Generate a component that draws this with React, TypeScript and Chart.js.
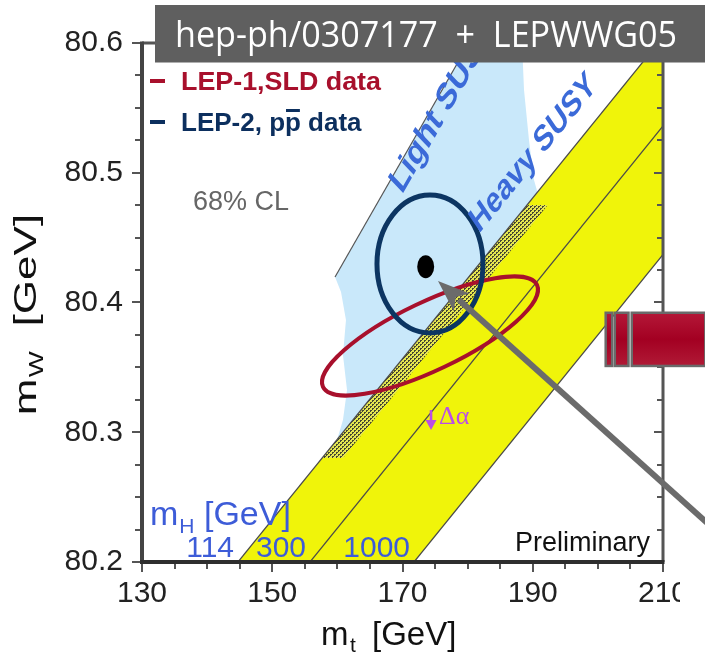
import React, { useEffect, useRef } from 'react';
import { Chart, registerables } from 'chart.js';

Chart.register(...registerables);

// ---------- axis ----------
const xTickValues = [130, 150, 170, 190, 210];
const yTickValues = [80.2, 80.3, 80.4, 80.5, 80.6];

// ---------- SM band: lines of constant mH (mt at mW = 80.2 and at mW = 80.6) ----------
const mHLabels = ['114', '300', '1000'];
const mHLineMtAtLow = [144.74, 155.8, 171.77];
const mHLineMtAtHigh = [209.26, 220.32, 236.29];
const mHLineMW = [80.2, 80.6];

// ---------- MSSM (Light / Heavy SUSY) region outline ----------
const susyRegionMt = [159.64, 180.21, 188.35, 188.66, 189.42, 190.19, 191.27, 159.94, 160.86, 161.48, 160.86, 161.32, 160.56];
const susyRegionMW = [80.4197, 80.6, 80.6, 80.5638, 80.5252, 80.4944, 80.4751, 80.294, 80.3094, 80.3326, 80.3595, 80.3865, 80.4081];

// Light SUSY edge line
const lightEdgeMt = [159.64, 180.21];
const lightEdgeMW = [80.4197, 80.6];

// overlap strip (dotted)
const stripMt = [157.67, 189.13, 192.3, 160.85];
const stripMW = [80.2802, 80.4751, 80.4751, 80.2802];

// ---------- 68% CL contours ----------
const lep1Center = [174.22, 80.3742];
const lep1MajorEnd = [190.65, 80.4135];
const lep1MinorEnd = [176.47, 80.3505];
const lep2Center = [174.22, 80.4297];
const lep2HalfAxes = [8.14, 0.0532];
const measuredPoint = [173.56, 80.4276];
const measuredHalf = [1.3, 0.0089];

// ---------- annotations (data coordinates) ----------
const arrowTip = [175.45, 80.4166];
const arrowTail = [217.98, 80.2247];
const deltaAlphaArrow = [174.38, 80.3171, 80.3033];
const deltaAlphaText = [175.6, 80.3064];
const lightSusyAnchor = [169.92, 80.4829];
const heavySusyAnchor = [181.75, 80.4528];
const widgetMt = [[201.2, 202.2], [202.6, 204.7], [205.2, 216.5]];
const widgetMW = [80.3511, 80.3921];

const SANS = '"Liberation Sans", Arial, Helvetica, sans-serif';

function makeDots(): CanvasPattern | string {
  const c = document.createElement('canvas');
  c.width = 4;
  c.height = 4;
  const g = c.getContext('2d');
  if (!g) return '#c8ca60';
  g.fillStyle = 'rgb(228,230,80)';
  g.fillRect(0, 0, 4, 4);
  g.fillStyle = 'rgb(70,70,50)';
  g.fillRect(0, 0, 2, 1);
  g.fillRect(0, 1, 1, 1);
  g.fillRect(2, 2, 2, 1);
  g.fillRect(2, 3, 1, 1);
  const p = g.createPattern(c, 'repeat');
  return p || '#c8ca60';
}

function rotText(ctx: CanvasRenderingContext2D, text: string, x: number, y: number, slope: number, font: string, color: string, stretch: number) {
  ctx.save();
  ctx.translate(x, y);
  ctx.scale(1, stretch);
  ctx.rotate(-Math.atan(slope / stretch));
  ctx.font = font;
  ctx.fillStyle = color;
  ctx.textAlign = 'left';
  ctx.textBaseline = 'alphabetic';
  ctx.fillText(text, 0, 0);
  ctx.restore();
}

const decor = {
  id: 'decor',
  afterDatasetsDraw(chart: any) {
    const ctx: CanvasRenderingContext2D = chart.ctx;
    const { left, top, right, bottom } = chart.chartArea;
    const xs = chart.scales.x;
    const ys = chart.scales.y;
    const P = (mt: number, mw: number) => [xs.getPixelForValue(mt), ys.getPixelForValue(mw)];
    ctx.save();
    ctx.beginPath();
    ctx.rect(left, top, right - left, bottom - top);
    ctx.clip();

    // LEP-1, SLD contour
    {
      const [cx, cy] = P(lep1Center[0], lep1Center[1]);
      const [ax, ay] = P(lep1MajorEnd[0], lep1MajorEnd[1]);
      const [bx, by] = P(lep1MinorEnd[0], lep1MinorEnd[1]);
      const a = Math.hypot(ax - cx, ay - cy);
      const b = Math.hypot(bx - cx, by - cy);
      ctx.beginPath();
      ctx.ellipse(cx, cy, a, b, Math.atan2(ay - cy, ax - cx), 0, Math.PI * 2);
      ctx.strokeStyle = '#a8102c';
      ctx.lineWidth = 4;
      ctx.stroke();
    }
    // LEP-2, ppbar contour
    {
      const [cx, cy] = P(lep2Center[0], lep2Center[1]);
      const [ex] = P(lep2Center[0] + lep2HalfAxes[0], lep2Center[1]);
      const [, ey] = P(lep2Center[0], lep2Center[1] + lep2HalfAxes[1]);
      ctx.beginPath();
      ctx.ellipse(cx, cy, Math.abs(ex - cx), Math.abs(cy - ey), 0, 0, Math.PI * 2);
      ctx.strokeStyle = '#0c3562';
      ctx.lineWidth = 5;
      ctx.stroke();
    }
    // measured point
    {
      const [cx, cy] = P(measuredPoint[0], measuredPoint[1]);
      const [ex] = P(measuredPoint[0] + measuredHalf[0], measuredPoint[1]);
      const [, ey] = P(measuredPoint[0], measuredPoint[1] + measuredHalf[1]);
      ctx.beginPath();
      ctx.ellipse(cx, cy, Math.abs(ex - cx), Math.abs(cy - ey), 0, 0, Math.PI * 2);
      ctx.fillStyle = '#000';
      ctx.fill();
    }

    // SUSY labels
    {
      const [l0x, l0y] = P(lightEdgeMt[0], lightEdgeMW[0]);
      const [l1x, l1y] = P(lightEdgeMt[1], lightEdgeMW[1]);
      const lightSlope = (l0y - l1y) / (l1x - l0x);
      const [h0x, h0y] = P(mHLineMtAtLow[0], mHLineMW[0]);
      const [h1x, h1y] = P(mHLineMtAtHigh[0], mHLineMW[1]);
      const heavySlope = (h0y - h1y) / (h1x - h0x);
      const [lx, ly] = P(lightSusyAnchor[0], lightSusyAnchor[1]);
      const [hx, hy] = P(heavySusyAnchor[0], heavySusyAnchor[1]);
      rotText(ctx, 'Light SUSY', lx, ly, lightSlope, `bold 28px ${SANS}`, '#3b6ad8', 1.35);
      rotText(ctx, 'Heavy SUSY', hx, hy, heavySlope, `bold 27px ${SANS}`, '#3b6ad8', 1.35);
    }

    // 68% CL
    ctx.font = `27px ${SANS}`;
    ctx.fillStyle = '#666';
    ctx.textAlign = 'left';
    ctx.textBaseline = 'alphabetic';
    ctx.fillText('68% CL', left + 51, top + 167);

    // Delta alpha
    {
      const [ax, ay0] = P(deltaAlphaArrow[0], deltaAlphaArrow[1]);
      const [, ay1] = P(deltaAlphaArrow[0], deltaAlphaArrow[2]);
      ctx.strokeStyle = '#bb4ee6';
      ctx.fillStyle = '#bb4ee6';
      ctx.lineWidth = 2.6;
      ctx.beginPath();
      ctx.moveTo(ax, ay0);
      ctx.lineTo(ax, ay1 - 6);
      ctx.stroke();
      ctx.beginPath();
      ctx.moveTo(ax, ay1 + 2);
      ctx.lineTo(ax - 5.5, ay1 - 8);
      ctx.lineTo(ax + 5.5, ay1 - 8);
      ctx.closePath();
      ctx.fill();
      const [tx, ty] = P(deltaAlphaText[0], deltaAlphaText[1]);
      ctx.font = '26px "Liberation Serif", "DejaVu Serif", serif';
      ctx.fillText('Δα', tx, ty);
    }

    // m_H labels
    {
      const blue = '#3d5cd8';
      ctx.fillStyle = blue;
      ctx.textAlign = 'left';
      let x = left + 8;
      const yb = bottom - 37;
      ctx.font = `34px ${SANS}`;
      ctx.fillText('m', x, yb);
      x += ctx.measureText('m').width;
      ctx.font = `21px ${SANS}`;
      ctx.fillText('H', x + 1, yb + 8);
      x += ctx.measureText('H').width + 1;
      ctx.font = `34px ${SANS}`;
      ctx.fillText(' [GeV]', x, yb);
      ctx.font = `30px ${SANS}`;
      ctx.textAlign = 'right';
      mHLabels.forEach((lab, i) => {
        const [lx] = P(mHLineMtAtLow[i], mHLineMW[0]);
        ctx.fillText(lab, lx - 4, bottom - 5);
      });
    }

    // Preliminary
    ctx.font = `27px ${SANS}`;
    ctx.fillStyle = '#111';
    ctx.textAlign = 'right';
    ctx.fillText('Preliminary', right - 13, bottom - 11);

    ctx.restore();
  },
  afterDraw(chart: any) {
    const ctx: CanvasRenderingContext2D = chart.ctx;
    const { left, top, right, bottom } = chart.chartArea;
    const xs = chart.scales.x;
    const ys = chart.scales.y;
    const P = (mt: number, mw: number) => [xs.getPixelForValue(mt), ys.getPixelForValue(mw)];
    ctx.save();

    // ticks
    ctx.strokeStyle = '#555';
    ctx.lineWidth = 2;
    for (let k = 0; k <= 16; k++) {
      const v = 80.2 + k * 0.025;
      const y = Math.round(ys.getPixelForValue(v));
      const len = k % 4 === 0 ? 9 : 6;
      ctx.beginPath();
      ctx.moveTo(left - len - 1, y);
      ctx.lineTo(left, y);
      ctx.moveTo(right - len, y);
      ctx.lineTo(right, y);
      ctx.stroke();
    }
    for (let k = 0; k <= 16; k++) {
      const v = 130 + k * 5;
      const x = Math.round(xs.getPixelForValue(v));
      const len = k % 4 === 0 ? 9 : 6;
      ctx.beginPath();
      ctx.moveTo(x, bottom);
      ctx.lineTo(x, bottom + len + 1);
      ctx.moveTo(x, top);
      ctx.lineTo(x, top + len);
      ctx.stroke();
    }

    // frame
    ctx.strokeStyle = '#555';
    ctx.lineWidth = 3;
    ctx.beginPath();
    ctx.moveTo(left, top);
    ctx.lineTo(right, top);
    ctx.moveTo(right, top);
    ctx.lineTo(right, bottom);
    ctx.stroke();
    ctx.strokeStyle = '#444';
    ctx.lineWidth = 4;
    ctx.beginPath();
    ctx.moveTo(left, top - 1.5);
    ctx.lineTo(left, bottom + 2);
    ctx.stroke();
    ctx.strokeStyle = '#2e2e2e';
    ctx.beginPath();
    ctx.moveTo(left - 2, bottom);
    ctx.lineTo(right + 1.5, bottom);
    ctx.stroke();

    // legend
    ctx.textAlign = 'left';
    ctx.textBaseline = 'alphabetic';
    ctx.lineWidth = 4;
    ctx.strokeStyle = '#a8102c';
    ctx.beginPath();
    ctx.moveTo(left + 8, top + 38);
    ctx.lineTo(left + 23, top + 38);
    ctx.stroke();
    ctx.fillStyle = '#a8102c';
    ctx.font = `bold 26px ${SANS}`;
    const l1w = ctx.measureText('LEP-1,SLD data').width;
    ctx.save();
    ctx.translate(left + 39, top + 47);
    ctx.scale(200 / l1w, 1);
    ctx.fillText('LEP-1,SLD data', 0, 0);
    ctx.restore();
    ctx.strokeStyle = '#0c2f5e';
    ctx.beginPath();
    ctx.moveTo(left + 8, top + 79);
    ctx.lineTo(left + 23, top + 79);
    ctx.stroke();
    ctx.fillStyle = '#0c2f5e';
    {
      let x = left + 39;
      const yb = top + 88;
      ctx.fillText('LEP-2, p', x, yb);
      x += ctx.measureText('LEP-2, p').width;
      const pw = ctx.measureText('p').width;
      ctx.fillText('p', x, yb);
      ctx.fillRect(x + 1, yb - 22, pw - 2, 3);
      x += pw;
      ctx.fillText(' data', x, yb);
    }

    // axis titles
    ctx.fillStyle = '#111';
    {
      ctx.save();
      ctx.translate(left - 106, (top + bottom) / 2 + 12);
      ctx.rotate(-Math.PI / 2);
      ctx.scale(1.38, 1);
      ctx.font = `32px ${SANS}`;
      const wm = ctx.measureText('m').width;
      ctx.font = `20px ${SANS}`;
      const ww = ctx.measureText('W').width;
      ctx.font = `32px ${SANS}`;
      const wg = ctx.measureText('  [GeV]').width;
      let x = -(wm + ww + 1 + wg) / 2;
      ctx.fillText('m', x, 0);
      x += wm + 1;
      ctx.font = `20px ${SANS}`;
      ctx.fillText('W', x, 7);
      x += ww;
      ctx.font = `32px ${SANS}`;
      ctx.fillText('  [GeV]', x, 0);
      ctx.restore();
    }
    {
      const yb = bottom + 83;
      ctx.font = `33px ${SANS}`;
      ctx.fillText('m', left + 179, yb);
      ctx.font = `21px ${SANS}`;
      ctx.fillText('t', left + 208, yb + 7);
      ctx.font = `33px ${SANS}`;
      ctx.fillText('[GeV]', left + 230, yb);
    }

    // red widget at the right edge
    {
      const [, yTop] = P(200, widgetMW[1]);
      const [, yBot] = P(200, widgetMW[0]);
      widgetMt.forEach(([a, b]) => {
        const [x0] = P(a, 80.4);
        const [x1] = P(b, 80.4);
        const g = ctx.createLinearGradient(0, yTop, 0, yBot);
        g.addColorStop(0, '#b41838');
        g.addColorStop(0.5, '#a30022');
        g.addColorStop(1, '#b01a36');
        ctx.fillStyle = g;
        ctx.fillRect(x0, yTop, x1 - x0, yBot - yTop);
        ctx.strokeStyle = '#6a6a6a';
        ctx.lineWidth = 2.5;
        ctx.strokeRect(x0, yTop, x1 - x0, yBot - yTop);
      });
    }

    // grey arrow pointing to the measured point
    {
      const [tx, ty] = P(arrowTip[0], arrowTip[1]);
      const [sx, sy] = P(arrowTail[0], arrowTail[1]);
      const d = Math.hypot(sx - tx, sy - ty);
      const ux = (sx - tx) / d;
      const uy = (sy - ty) / d;
      const hl = 32;
      const hw = 12;
      ctx.strokeStyle = '#6b6b6b';
      ctx.fillStyle = '#6b6b6b';
      ctx.lineWidth = 6;
      ctx.beginPath();
      ctx.moveTo(tx + ux * (hl - 4), ty + uy * (hl - 4));
      ctx.lineTo(sx, sy);
      ctx.stroke();
      ctx.beginPath();
      ctx.moveTo(tx, ty);
      ctx.lineTo(tx + ux * hl - uy * hw, ty + uy * hl + ux * hw);
      ctx.lineTo(tx + ux * (hl - 8), ty + uy * (hl - 8));
      ctx.lineTo(tx + ux * hl + uy * hw, ty + uy * hl - ux * hw);
      ctx.closePath();
      ctx.fill();
    }

    // title box
    ctx.fillStyle = '#5f5f5f';
    ctx.fillRect(left + 13, 5, chart.width - left - 13 + 5, 57.5);
    {
      const txt = 'hep-ph/0307177  +  LEPWWG05';
      ctx.font = '36px "Open Sans", "Noto Sans", sans-serif';
      const w = ctx.measureText(txt).width;
      ctx.save();
      ctx.translate(left + 33, 47);
      ctx.scale(502 / w, 1);
      ctx.fillStyle = '#ffffff';
      ctx.textAlign = 'left';
      ctx.fillText(txt, 0, 0);
      ctx.restore();
    }

    // the slide cuts off the last tick label
    ctx.fillStyle = '#ffffff';
    ctx.fillRect(right + 17, bottom + 10, 40, 45);

    ctx.restore();
  },
};

export default function App() {
  const ref = useRef<HTMLCanvasElement>(null);
  useEffect(() => {
    const canvas = ref.current;
    if (!canvas) return;
    const dots = makeDots();
    const pts = (mts: number[], mws: number[]) => mts.map((x, i) => ({ x, y: mws[i] }));
    const yellowBand = [
      { x: mHLineMtAtLow[0], y: mHLineMW[0] },
      { x: mHLineMtAtHigh[0], y: mHLineMW[1] },
      { x: mHLineMtAtHigh[2], y: mHLineMW[1] },
      { x: mHLineMtAtLow[2], y: mHLineMW[0] },
    ];
    const datasets: any[] = [
      { label: 'MSSM', data: pts(susyRegionMt, susyRegionMW), fill: 'shape', backgroundColor: 'rgb(201,232,250)', borderWidth: 0, pointRadius: 0, order: 6 },
      { label: 'SM', data: yellowBand, fill: 'shape', backgroundColor: 'rgb(240,244,10)', borderWidth: 0, pointRadius: 0, order: 5 },
      { label: 'overlap', data: pts(stripMt, stripMW), fill: 'shape', backgroundColor: dots, borderWidth: 0, pointRadius: 0, order: 4 },
      ...mHLabels.map((lab, i) => ({
        label: 'mH=' + lab,
        data: [{ x: mHLineMtAtLow[i], y: mHLineMW[0] }, { x: mHLineMtAtHigh[i], y: mHLineMW[1] }],
        borderColor: '#4a4a4a', borderWidth: 1.2, pointRadius: 0, fill: false, order: 3,
      })),
      { label: 'Light SUSY', data: pts(lightEdgeMt, lightEdgeMW), borderColor: '#555', borderWidth: 1.2, pointRadius: 0, fill: false, order: 3 },
    ];
    const chart = new Chart(canvas, {
      type: 'line',
      data: { datasets },
      options: {
        responsive: false,
        animation: false,
        devicePixelRatio: 1,
        events: [],
        layout: { padding: { left: 0, top: 43, right: 42, bottom: 0 } },
        plugins: { legend: { display: false }, tooltip: { enabled: false } },
        elements: { line: { tension: 0 } },
        scales: {
          x: {
            type: 'linear',
            min: 130,
            max: 210,
            afterBuildTicks: (s: any) => { s.ticks = xTickValues.map((v) => ({ value: v })); },
            afterFit: (s: any) => { s.height = 105; },
            grid: { display: false, drawTicks: false },
            border: { display: false },
            ticks: { autoSkip: false, maxRotation: 0, padding: 14, color: '#222', font: { family: SANS, size: 30 }, callback: (v: any) => String(v) },
          },
          y: {
            type: 'linear',
            min: 80.2,
            max: 80.6,
            afterBuildTicks: (s: any) => { s.ticks = yTickValues.map((v) => ({ value: v })); },
            afterFit: (s: any) => { s.width = 142; },
            grid: { display: false, drawTicks: false },
            border: { display: false },
            ticks: { autoSkip: false, padding: 19, color: '#222', font: { family: SANS, size: 30 }, callback: (v: any) => Number(v).toFixed(1) },
          },
        },
      } as any,
      plugins: [decor],
    });
    return () => chart.destroy();
  }, []);
  return (
    <div style={{ position: 'fixed', left: 0, top: 0, width: 705, height: 667, background: '#fff' }}>
      <canvas ref={ref} width={705} height={667} />
    </div>
  );
}
